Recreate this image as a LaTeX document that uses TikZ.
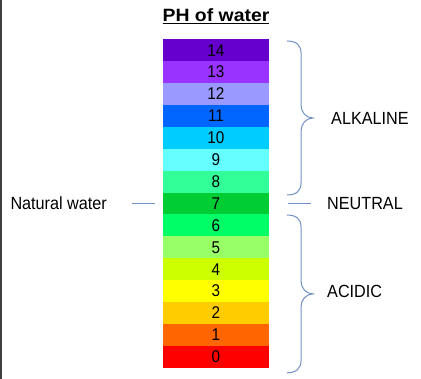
\documentclass[tikz,border=0pt]{standalone}
\usepackage{fontspec}
\setmainfont{Liberation Sans}
\newfontfamily\numfont[FakeStretch=0.9]{Liberation Sans}
\newfontfamily\labelfont[FakeStretch=0.92]{Liberation Sans}
\newfontfamily\headfont[FakeStretch=1.09]{Liberation Sans}
\usetikzlibrary{positioning, calc}

\definecolor{ph0}{HTML}{FF0000}
\definecolor{ph1}{HTML}{FF6600}
\definecolor{ph2}{HTML}{FFCC00}
\definecolor{ph3}{HTML}{FFFF00}
\definecolor{ph4}{HTML}{CCFF00}
\definecolor{ph5}{HTML}{99FF66}
\definecolor{ph6}{HTML}{00FF66}
\definecolor{ph7}{HTML}{00CC33}
\definecolor{ph8}{HTML}{33FF99}
\definecolor{ph9}{HTML}{66FFFF}
\definecolor{ph10}{HTML}{00CCFF}
\definecolor{ph11}{HTML}{0066FF}
\definecolor{ph12}{HTML}{9999FF}
\definecolor{ph13}{HTML}{9933FF}
\definecolor{ph14}{HTML}{6600CC}
\definecolor{guideblue}{HTML}{7090C4}

% thick underline for the heading
\newcommand{\thickul}[1]{\setbox0\hbox{#1}\rlap{\rule[-2.4pt]{\wd0}{1.3pt}}\box0}
% curly brace opening to the right, from #1 down to #2
\newcommand{\phbrace}[2]{%
  \draw[guide] let \p1=(#1), \p2=(#2), \p3=($(#1)!0.5!(#2)$) in
    (\x1,\y1) .. controls (\x1+9pt,\y1) and (\x1+14pt,\y1-4pt) .. (\x1+14pt,\y1-12pt)
    -- (\x1+14pt,\y3+13pt) .. controls (\x1+14pt,\y3+6pt) and (\x1+19pt,\y3) .. (\x1+26pt,\y3)
    .. controls (\x1+19pt,\y3) and (\x1+14pt,\y3-6pt) .. (\x1+14pt,\y3-13pt)
    -- (\x1+14pt,\y2+12pt) .. controls (\x1+14pt,\y2+4pt) and (\x1+9pt,\y2) .. (\x1,\y2);
}

\begin{document}
\begin{tikzpicture}[
        x=1pt, y=-1pt,
        cell/.style={rectangle, inner sep=0pt, outer sep=0pt, minimum width=106pt, minimum height=21.9pt, font=\numfont\fontsize{17}{20}\selectfont},
        tag/.style={inner sep=0pt, font=\labelfont\fontsize{17.6}{20}\selectfont},
        guide/.style={draw=guideblue, line width=1pt}
    ]
    \useasboundingbox (0,0) rectangle (421,379);
    \draw[line width=1.5pt, black!75] (0.75,0) -- (0.75,379);

    % Scale
    \node[cell, fill=ph14] (p14) at (216,50.25) {14};
    \foreach \v [remember=\v as \prev (initially 14)] in {13,12,...,0}
        \node[cell, fill=ph\v, below=0pt of p\prev] (p\v) {\v};

    \node[inner sep=0pt, font=\headfont\fontsize{17.8}{21}\selectfont\bfseries, above=17.6pt of p14, anchor=base] (title) {\thickul{PH of water}};

    % Labels
    \node[tag, left=56pt of p7] (natural) {Natural water};
    \node[tag, right=58pt of p7] (neutral) {NEUTRAL};
    \node[tag, right=62pt of p11, yshift=-2pt] (alkaline) {ALKALINE};
    \node[tag, right=58pt of p3] (acidic) {ACIDIC};

    % Connections
    \draw[guide, shorten <=25pt, shorten >=8pt] (natural) -- (p7);
    \draw[guide, shorten <=19pt, shorten >=16pt] (p7) -- (neutral);

    \coordinate (alk top) at ($(p14.north east)+(18pt,-1.7pt)$);
    \coordinate (alk bot) at ($(p8.south east)+(18pt,-2.4pt)$);
    \coordinate (acid top) at ($(p6.north east)+(18pt,-0.5pt)$);
    \coordinate (acid bot) at ($(p0.south east)+(18pt,-5pt)$);
    \phbrace{alk top}{alk bot}
    \phbrace{acid top}{acid bot}

\end{tikzpicture}
\end{document}
